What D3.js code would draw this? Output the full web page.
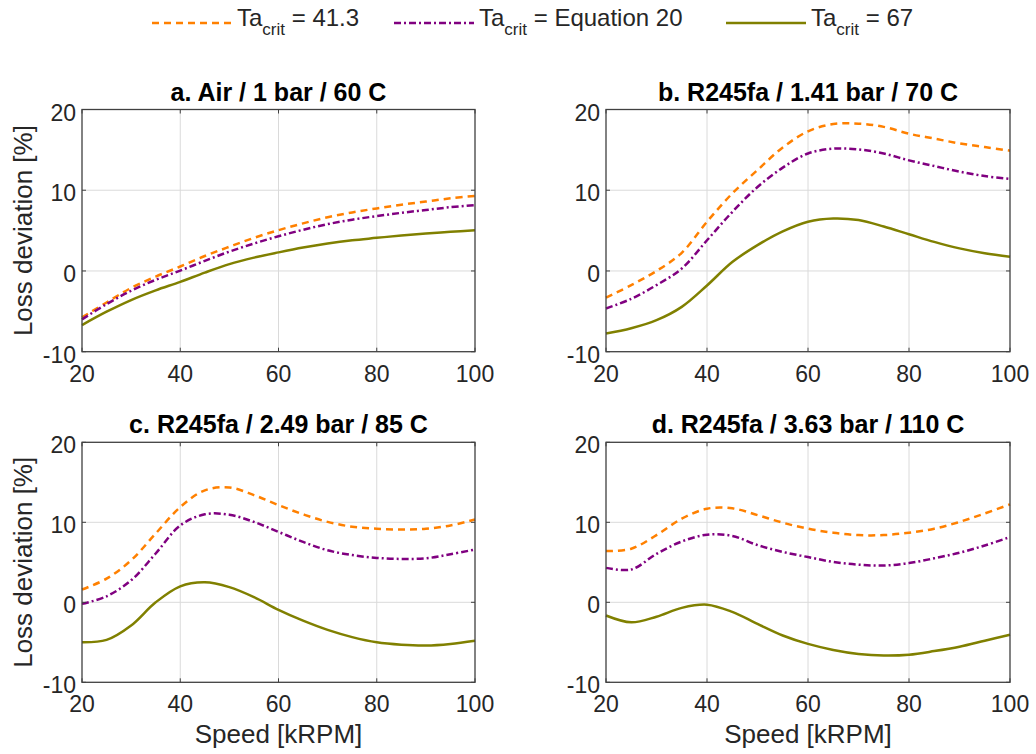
<!DOCTYPE html>
<html lang="en">
<head>
    <meta charset="UTF-8">
    <title>Loss deviation vs speed</title>
    <script src="https://cdn.jsdelivr.net/npm/d3@7"></script>
    <style>
        body { margin: 0; background: #fff; }
        text { font-family: "Liberation Sans", Arial, Helvetica, sans-serif; fill: #262626; }
    </style>
</head>
<body>
    <script>
        // speeds [kRPM] sampled along every curve
        const speed = [20, 25, 30, 35, 40, 45, 50, 55, 60, 65, 70, 75, 80, 85, 90, 95, 100];

        const seriesNames = ["41.3", "Equation 20", "67"];
        const titles = [
            "a. Air / 1 bar / 60 C",
            "b. R245fa / 1.41 bar / 70 C",
            "c. R245fa / 2.49 bar / 85 C",
            "d. R245fa / 3.63 bar / 110 C"
        ];
        const xTicks = [20, 40, 60, 80, 100];
        const yTicks = [-10, 0, 10, 20];

        // a. Air
        const airOrange = [-5.75, -3.9, -2.1, -0.7, 0.55, 1.85, 3.0, 4.1, 5.05, 5.9, 6.65, 7.25, 7.75, 8.2, 8.6, 9.0, 9.3];
        const airPurple = [-6.0, -4.1, -2.45, -1.1, 0.05, 1.25, 2.4, 3.4, 4.3, 5.1, 5.8, 6.35, 6.8, 7.2, 7.55, 7.9, 8.15];
        const airOlive = [-6.7, -5.05, -3.6, -2.4, -1.35, -0.2, 0.85, 1.65, 2.3, 2.9, 3.4, 3.8, 4.1, 4.4, 4.65, 4.85, 5.05];

        // b. R245fa 1.41 bar
        const b1Orange = [-3.3, -1.75, 0.0, 2.25, 6.1, 9.6, 12.5, 15.3, 17.3, 18.2, 18.25, 17.85, 17.0, 16.4, 15.8, 15.35, 14.9];
        const b1Purple = [-4.65, -3.45, -1.75, 0.3, 3.8, 7.3, 10.4, 12.8, 14.55, 15.15, 15.05, 14.55, 13.7, 13.0, 12.3, 11.75, 11.4];
        const b1Olive = [-7.75, -7.1, -6.1, -4.45, -1.8, 1.1, 3.2, 4.9, 6.1, 6.5, 6.3, 5.5, 4.55, 3.6, 2.8, 2.2, 1.75];

        // c. R245fa 2.49 bar
        const b2Orange = [1.6, 2.95, 5.25, 8.6, 11.9, 14.0, 14.35, 13.4, 12.15, 11.0, 10.05, 9.45, 9.2, 9.1, 9.2, 9.6, 10.35];
        const b2Purple = [-0.2, 0.75, 2.75, 6.1, 9.6, 11.0, 10.95, 10.05, 8.8, 7.55, 6.5, 5.9, 5.55, 5.42, 5.5, 6.0, 6.6];
        const b2Olive = [-5.0, -4.7, -2.9, 0.0, 2.0, 2.5, 1.9, 0.65, -0.95, -2.3, -3.45, -4.35, -5.0, -5.3, -5.4, -5.2, -4.8];

        // d. R245fa 3.63 bar
        const b3Orange = [6.4, 6.7, 8.4, 10.45, 11.7, 11.75, 10.9, 9.95, 9.2, 8.7, 8.4, 8.4, 8.7, 9.2, 10.05, 11.1, 12.25];
        const b3Purple = [4.3, 4.1, 6.05, 7.6, 8.45, 8.3, 7.15, 6.3, 5.65, 5.05, 4.7, 4.6, 4.9, 5.5, 6.2, 7.1, 8.15];
        const b3Olive = [-1.65, -2.5, -1.8, -0.7, -0.3, -1.2, -2.7, -4.15, -5.2, -5.95, -6.45, -6.65, -6.55, -6.1, -5.55, -4.8, -4.05];

        const panelData = [
            [airOrange, airPurple, airOlive],
            [b1Orange, b1Purple, b1Olive],
            [b2Orange, b2Purple, b2Olive],
            [b3Orange, b3Purple, b3Olive]
        ];

        const colors = ["#ff8000", "#800080", "#808000"];
        const dashes = ["7,5", "7,3,2,3", null];

        const width = 1036, height = 754;
        const svg = d3.select("body").append("svg")
            .attr("width", width)
            .attr("height", height);

        // panel boxes (left, right, top, bottom)
        const cols = [[82, 475], [606, 1010]];
        const rows = [[109.5, 351.7], [442.3, 682.3]];

        panelData.forEach((series, i) => {
            const c = cols[i % 2], r = rows[Math.floor(i / 2)];
            const x = d3.scaleLinear().domain([20, 100]).range(c);
            const y = d3.scaleLinear().domain([-10, 20]).range([r[1], r[0]]);
            const g = svg.append("g");

            // grid
            g.selectAll(".gx").data(xTicks.slice(1, -1)).enter().append("line")
                .attr("x1", d => x(d)).attr("x2", d => x(d))
                .attr("y1", r[0]).attr("y2", r[1])
                .attr("stroke", "#dadada").attr("stroke-width", 1);
            g.selectAll(".gy").data(yTicks.slice(1, -1)).enter().append("line")
                .attr("x1", c[0]).attr("x2", c[1])
                .attr("y1", d => y(d)).attr("y2", d => y(d))
                .attr("stroke", "#dadada").attr("stroke-width", 1);

            // curves
            series.forEach((vals, k) => {
                const line = d3.line()
                    .x((d, j) => x(speed[j]))
                    .y(d => y(d))
                    .curve(d3.curveCatmullRom.alpha(0.5));
                g.append("path")
                    .datum(vals)
                    .attr("d", line)
                    .attr("fill", "none")
                    .attr("stroke", colors[k])
                    .attr("stroke-width", 2.5)
                    .attr("stroke-dasharray", dashes[k]);
            });

            // ticks on all four sides, pointing in
            const tl = 4;
            xTicks.forEach(t => {
                g.append("line").attr("x1", x(t)).attr("x2", x(t)).attr("y1", r[1]).attr("y2", r[1] - tl).attr("stroke", "#404040");
                g.append("line").attr("x1", x(t)).attr("x2", x(t)).attr("y1", r[0]).attr("y2", r[0] + tl).attr("stroke", "#404040");
            });
            yTicks.forEach(t => {
                g.append("line").attr("x1", c[0]).attr("x2", c[0] + tl).attr("y1", y(t)).attr("y2", y(t)).attr("stroke", "#404040");
                g.append("line").attr("x1", c[1]).attr("x2", c[1] - tl).attr("y1", y(t)).attr("y2", y(t)).attr("stroke", "#404040");
            });

            // box
            g.append("rect")
                .attr("x", c[0]).attr("y", r[0])
                .attr("width", c[1] - c[0]).attr("height", r[1] - r[0])
                .attr("fill", "none").attr("stroke", "#404040").attr("stroke-width", 1.3);

            // tick labels
            g.selectAll(".xl").data(xTicks).enter().append("text")
                .attr("x", d => x(d)).attr("y", r[1] + 30)
                .attr("text-anchor", "middle").attr("font-size", 23)
                .text(d => d);
            g.selectAll(".yl").data(yTicks).enter().append("text")
                .attr("x", c[0] - 6).attr("y", d => y(d) + 11)
                .attr("text-anchor", "end").attr("font-size", 23)
                .text(d => d);

            // title
            g.append("text")
                .attr("x", (c[0] + c[1]) / 2).attr("y", r[0] - 9)
                .attr("text-anchor", "middle").attr("font-size", 25)
                .attr("font-weight", "bold")
                .style("fill", "#000")
                .text(titles[i]);

            if (i % 2 === 0) {
                g.append("text")
                    .attr("transform", `translate(32,${(r[0] + r[1]) / 2}) rotate(-90)`)
                    .attr("text-anchor", "middle").attr("font-size", 26)
                    .text("Loss deviation [%]");
            }
            if (i >= 2) {
                g.append("text")
                    .attr("x", (c[0] + c[1]) / 2).attr("y", 743)
                    .attr("text-anchor", "middle").attr("font-size", 26)
                    .text("Speed [kRPM]");
            }
        });

        // legend
        const legendX = [152, 394, 726];
        const legend = svg.append("g");
        seriesNames.forEach((name, k) => {
            const lx = legendX[k];
            legend.append("line")
                .attr("x1", lx).attr("x2", lx + 80)
                .attr("y1", 23).attr("y2", 23)
                .attr("stroke", colors[k]).attr("stroke-width", 2.5)
                .attr("stroke-dasharray", dashes[k]);
            const t = legend.append("text")
                .attr("x", lx + 85).attr("y", 26)
                .attr("font-size", 24);
            t.append("tspan").text("Ta");
            t.append("tspan").attr("font-size", 17).attr("dy", 9).text("crit");
            t.append("tspan").attr("dy", -9).text(" = " + name);
        });
    </script>
</body>
</html>
